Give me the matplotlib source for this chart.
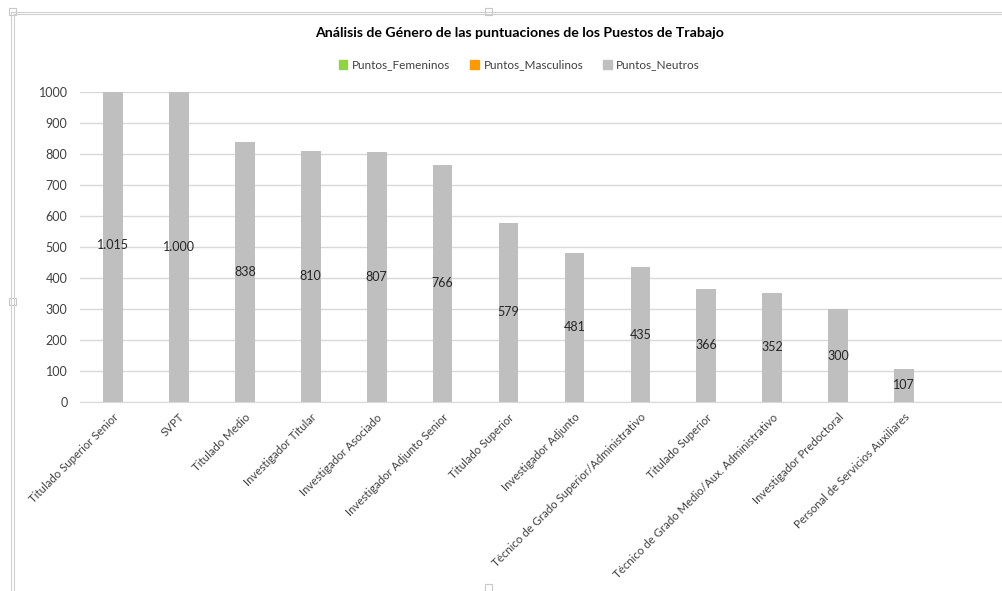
import matplotlib
matplotlib.use("Agg")
import matplotlib.pyplot as plt
from matplotlib.lines import Line2D
from matplotlib.patches import Rectangle
import numpy as np

# puestos de trabajo y puntuaciones
puestos = [
    "Titulado Superior Senior", "SVPT", "Titulado Medio", "Investigador Titular",
    "Investigador Asociado", "Investigador Adjunto Senior", "Titulado Superior",
    "Investigador Adjunto", "Técnico de Grado Superior/Administrativo",
    "Titulado Superior", "Técnico de Grado Medio/Aux. Administrativo",
    "Investigador Predoctoral", "Personal de Servicios Auxiliares",
]
puntos_femeninos = [0] * 13
puntos_masculinos = [0] * 13
puntos_neutros = [1015, 1000, 838, 810, 807, 766, 579, 481, 435, 366, 352, 300, 107]

plt.rcParams["font.family"] = ["Lato", "DejaVu Sans"]

fig = plt.figure(figsize=(10.03, 5.91), dpi=100)
ax = fig.add_axes([80 / 1003, 189 / 591, 923 / 1003, 310 / 591])

x = np.arange(len(puestos))
w = 0.3
fem = np.array(puntos_femeninos)
mas = np.array(puntos_masculinos)
neu = np.array(puntos_neutros)

ax.bar(x, fem, w, color="#92D050", label="Puntos_Femeninos", zorder=2)
ax.bar(x, mas, w, bottom=fem, color="#FF9900", label="Puntos_Masculinos", zorder=2)
ax.bar(x, neu, w, bottom=fem + mas, color="#BFBFBF", label="Puntos_Neutros", zorder=2)

def fmt(v):
    return f"{v:,}".replace(",", ".")

for xi, b0, v in zip(x, fem + mas, neu):
    ax.text(xi, b0 + v / 2, fmt(v), ha="center", va="center",
            fontsize=9, color="#262626", zorder=3)

ax.set_xlim(-0.5, 13.5)
ax.set_ylim(0, 1000)
ax.set_yticks(range(0, 1001, 100))
ax.yaxis.grid(True, color="#D9D9D9", linewidth=1, zorder=0)
for s in ["top", "right", "left"]:
    ax.spines[s].set_visible(False)
ax.spines["bottom"].set_color("#D9D9D9")
ax.tick_params(axis="both", length=0, labelsize=9, colors="#404040")
ax.tick_params(axis="y", pad=9)
ax.set_xticks(x)
ax.set_xticklabels(puestos, rotation=45, ha="right", va="top",
                   rotation_mode="anchor", fontsize=8.2, color="#404040")
ax.tick_params(axis="x", pad=7)

fig.text(0.518, 1 - 33 / 591, "Análisis de Género de las puntuaciones de los Puestos de Trabajo",
         ha="center", va="center", fontsize=10.2, fontweight="bold", color="#000000")

handles = [Rectangle((0, 0), 1, 1, color=c) for c in ["#92D050", "#FF9900", "#BFBFBF"]]
fig.legend(handles, ["Puntos_Femeninos", "Puntos_Masculinos", "Puntos_Neutros"],
           loc="center", bbox_to_anchor=(0.518, 1 - 65 / 591), ncol=3, frameon=False,
           fontsize=8.5, handlelength=0.7, handleheight=0.7, handletextpad=0.4,
           columnspacing=1.7, labelcolor="#404040")

# marco del gráfico
def px(xp, yp):
    return xp / 1003, 1 - yp / 591

for xs, ys in [([11, 11], [12, 591]), ([14, 14], [14, 591]), ([11, 1003], [12, 12]), ([14, 1003], [14, 14])]:
    (x0, y0), (x1, y1) = px(xs[0], ys[0]), px(xs[1], ys[1])
    fig.add_artist(Line2D([x0, x1], [y0, y1], color="#D0D0D0", linewidth=0.8))
for hx, hy in [(12, 12), (488, 12), (12, 302), (488, 588)]:
    cx, cy = px(hx - 3, hy + 3)
    fig.add_artist(Rectangle((cx, cy), 7 / 1003, 7 / 591, facecolor="white",
                             edgecolor="#C8C8C8", linewidth=0.8))

fig.savefig("out.png", dpi=100)
